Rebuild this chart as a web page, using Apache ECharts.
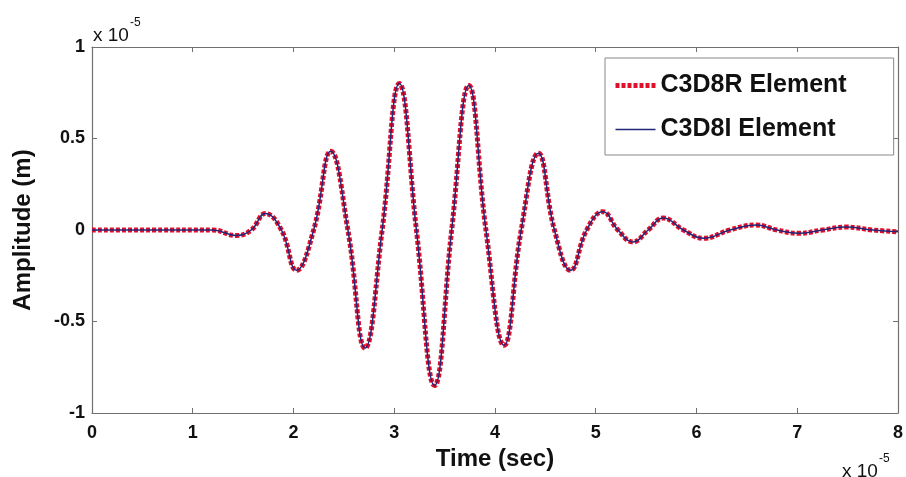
<!DOCTYPE html>
<html><head><meta charset="utf-8">
<script src="https://cdn.jsdelivr.net/npm/echarts@6/dist/echarts.min.js"></script>
<style>html,body{margin:0;padding:0;background:#fff}#c{width:906px;height:477px}</style>
</head><body><div id="c"></div>
<script>
// time in units of 1e-5 s, amplitude in units of 1e-5 m
const timeVals = [0, 0.6, 1.2, 1.43, 1.58, 1.72, 1.88, 2.03, 2.20, 2.37, 2.54, 2.71, 2.88, 3.05, 3.22, 3.40, 3.57, 3.74, 3.91, 4.09, 4.26, 4.43, 4.59, 4.75, 4.91, 5.07, 5.22, 5.37, 5.52, 5.67, 5.87, 6.07, 6.33, 6.59, 6.80, 7.01, 7.25, 7.48, 7.75, 8.0];
const c3d8r = [0, 0, 0, -0.03, 0, 0.09, 0, -0.22, 0, 0.43, 0, -0.645, 0, 0.80, 0, -0.85, 0, 0.79, 0, -0.63, 0, 0.42, 0, -0.22, 0, 0.10, 0, -0.065, 0, 0.065, 0, -0.045, 0, 0.027, 0, -0.018, 0, 0.016, 0, -0.01];
const c3d8i = [0, 0, 0, -0.03, 0, 0.09, 0, -0.22, 0, 0.43, 0, -0.645, 0, 0.80, 0, -0.85, 0, 0.79, 0, -0.63, 0, 0.42, 0, -0.22, 0, 0.10, 0, -0.065, 0, 0.065, 0, -0.045, 0, 0.027, 0, -0.018, 0, 0.016, 0, -0.01];
const xTicks = [0,1,2,3,4,5,6,7,8];
const yTicks = [-1,-0.5,0,0.5,1];
const seriesNames = ['C3D8R Element', 'C3D8I Element'];

const font = 'Liberation Sans, Arial, sans-serif';
const axisCol = '#707070';
const redCol = '#e0102a';
const blueCol = '#24267a';
const chart = echarts.init(document.getElementById('c'));
const baseAxis = {
  axisLine: {show: true, onZero: false, lineStyle: {color: axisCol, width: 1.2}},
  axisTick: {show: true, inside: true, length: 5, lineStyle: {color: axisCol}},
  splitLine: {show: false}
};
const sci = {
  a: {fontFamily: font, fontSize: 19, fill: '#111', padding: [9, 1, 0, 0]},
  b: {fontFamily: font, fontSize: 12, fill: '#111', verticalAlign: 'top'}
};
chart.setOption({
  animation: false,
  backgroundColor: '#fff',
  grid: {left: 92, right: 3, top: 47, bottom: 64},
  legend: {
    orient: 'vertical', left: 605, top: 58,
    padding: [15, 47, 13, 8], itemGap: 19, itemWidth: 40, itemHeight: 24,
    borderColor: '#888', borderWidth: 1, backgroundColor: '#fff',
    itemStyle: {opacity: 0},
    textStyle: {fontFamily: font, fontWeight: 'bold', fontSize: 25, color: '#111'},
    data: [
      {name: seriesNames[0], lineStyle: {color: redCol, width: 5, type: [4, 2]}},
      {name: seriesNames[1], lineStyle: {color: blueCol, width: 1.5}}
    ]
  },
  xAxis: [
    Object.assign({}, baseAxis, {type: 'value', min: 0, max: 8, interval: 1, position: 'bottom',
      axisLabel: {fontFamily: font, fontWeight: 'bold', fontSize: 18, color: '#111', margin: 11,
        formatter: v => xTicks.includes(v) ? String(v) : ''},
      name: 'Time (sec)', nameLocation: 'middle', nameGap: 31,
      nameTextStyle: {fontFamily: font, fontWeight: 'bold', fontSize: 24, color: '#111'}}),
    Object.assign({}, baseAxis, {type: 'value', min: 0, max: 8, interval: 1, position: 'top', axisLabel: {show: false}})
  ],
  yAxis: [
    Object.assign({}, baseAxis, {type: 'value', min: -1, max: 1, interval: 0.5, position: 'left',
      axisLabel: {fontFamily: font, fontWeight: 'bold', fontSize: 18, color: '#111', margin: 7,
        formatter: v => yTicks.includes(v) ? String(v) : ''},
      name: 'Amplitude (m)', nameLocation: 'middle', nameGap: 57, nameRotate: 90,
      nameTextStyle: {fontFamily: font, fontWeight: 'bold', fontSize: 24, color: '#111'}}),
    Object.assign({}, baseAxis, {type: 'value', min: -1, max: 1, interval: 0.5, position: 'right', axisLabel: {show: false}})
  ],
  series: [
    {name: seriesNames[0], type: 'line', smooth: 0.45, showSymbol: false, symbol: 'none', z: 2,
     data: timeVals.map((t, i) => [t, c3d8r[i]]),
     itemStyle: {color: redCol},
     lineStyle: {color: redCol, width: 5, type: [4, 2]}},
    {name: seriesNames[1], type: 'line', smooth: 0.45, showSymbol: false, symbol: 'none', z: 3,
     data: timeVals.map((t, i) => [t, c3d8i[i]]),
     itemStyle: {color: blueCol},
     lineStyle: {color: blueCol, width: 1.5}}
  ],
  graphic: [
    {type: 'text', left: 93, top: 17, style: {text: '{a|x 10}{b|-5}', rich: sci}},
    {type: 'text', left: 842, top: 453, style: {text: '{a|x 10}{b|-5}', rich: sci}}
  ]
});
</script></body></html>
